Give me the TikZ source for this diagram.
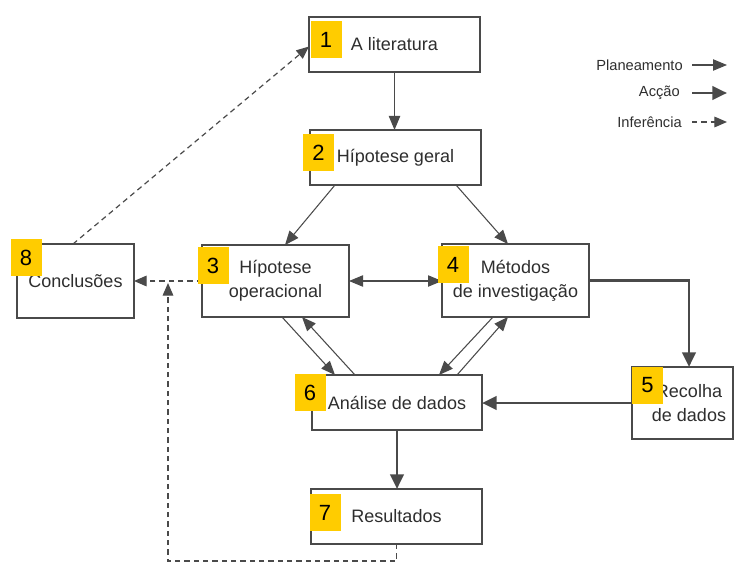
\documentclass[tikz,border=0pt]{standalone}
\usepackage{fontspec}
\setmainfont{Liberation Sans}
\usetikzlibrary{arrows.meta,calc}
\definecolor{ink}{HTML}{4A4A4A}
\definecolor{tagfill}{HTML}{FFCC00}
\definecolor{txt}{HTML}{2E2E2E}

\begin{document}
\begin{tikzpicture}[x=0.75pt,y=-0.75pt,
  box/.style={draw=ink, line width=0.9pt, inner sep=0pt, outer sep=0pt,
    fill=white, text=txt, align=center, font=\fontsize{13.5}{18}\selectfont},
  lbl/.style={inner sep=0pt, text=txt, align=center, font=\fontsize{13.5}{18}\selectfont},
  tag/.style={fill=tagfill, minimum width=23.25pt, minimum height=27.75pt,
    inner sep=0pt, text=black, font=\fontsize{16.5}{18}\selectfont},
  legend/.style={inner sep=0pt, anchor=east, text=txt, font=\fontsize{11}{13}\selectfont},
  plan/.style={draw=ink, line width=0.8pt, -{Triangle[length=10.5pt,width=8.5pt]}},
  twoway/.style={plan, {Triangle[length=10.5pt,width=8.5pt]}-{Triangle[length=10.5pt,width=8.5pt]}},
  act/.style={draw=ink, line width=2.2pt, -{Triangle[length=11pt,width=10pt]}},
  infer/.style={draw=ink, line width=0.9pt, dash pattern=on 4pt off 3pt,
    -{Triangle[length=9.5pt,width=8pt]}}
]
\useasboundingbox (0,0) rectangle (734,563);

% boxes
\node[box, minimum width=128.25pt, minimum height=41.25pt] (b1) at (394.5,44.5) {A literatura};
\node[box, minimum width=128.25pt, minimum height=41.25pt] (b2) at (395.5,157.5) {Hípotese geral};
\node[box, minimum width=110.25pt, minimum height=54pt] (b3) at (275.5,281) {Hípotese\\operacional};
\node[box, minimum width=87.75pt, minimum height=55.5pt] (b8) at (75.5,281) {Conclusões};
\node[box, minimum width=110.25pt, minimum height=54.75pt] (b4) at (515.5,280.5) {Métodos\\de investigação};
\node[box, minimum width=75.75pt, minimum height=54pt] (b5) at (682.5,403) {};
\node[lbl] (t5) at (689,403.5) {Recolha\\de dados};
\node[box, minimum width=127.5pt, minimum height=41.25pt] (b6) at (397,402.5) {Análise de dados};
\node[box, minimum width=128.25pt, minimum height=41.25pt] (b7) at (396.5,516.5) {Resultados};

% planning links
\draw[plan] (b1.south) -- (b1.south |- b2.north);
\draw[plan] ($(b2.south west)+(25,0)$) -- ($(b3.north west)+(83,0)$);
\draw[plan] ($(b2.south west)+(146,0)$) -- ($(b4.north west)+(66,0)$);
\draw[twoway] (b3.east) -- (b3.east -| b4.west);
\draw[plan] ($(b3.south west)+(80,0)$) -- ($(b6.north west)+(23,0)$);
\draw[plan] ($(b6.north west)+(43,0)$) -- ($(b3.south west)+(100,0)$);
\draw[plan] ($(b4.south west)+(51,0)$) -- ($(b6.north west)+(127,0)$);
\draw[plan] ($(b6.north west)+(145,0)$) -- ($(b4.south west)+(66,0)$);

% action links
\draw[act] (b4.east) -| (t5 |- b5.north);
\draw[act] (b5.west) -- (b5.west -| b6.east);
\draw[act] (b6.south) -- (b6.south |- b7.north);

% inference links
\coordinate (m) at ($(b8.east)!0.5!(b3.west)+(0,2)$);
\draw[infer] (b3.west) -- (b8.east);
\draw[infer] ($(b8.north west)+(56,0)$) -- ($(b1.west)+(0,2)$);
\draw[infer] (b7.south) -- ++(0,17) -| (m);

% number tags
\node[tag] (n1) at (326,40) {1};
\node[tag] (n2) at (318.5,152.5) {2};
\node[tag] (n3) at (213,265.5) {3};
\node[tag] (n8) at (26,257.5) {8};
\node[tag] (n4) at (453,264.5) {4};
\node[tag] (n5) at (647.5,385) {5};
\node[tag] (n6) at (310,392.5) {6};
\node[tag] (n7) at (325,512.5) {7};

% legend
\node[legend] (l1) at (683,65) {Planeamento};
\node[legend] (l2) at (680,93) {Acção};
\node[legend] (l3) at (682,122) {Inferência};
\coordinate (e1) at (727,65);
\coordinate (e2) at (727,93);
\coordinate (e3) at (727,122);
\draw[plan] ($(l1.east)+(9,0)$) -- (e1);
\draw[act] ($(l2.east)+(12,0)$) -- (e2);
\draw[infer] ($(l3.east)+(10,0)$) -- (e3);
\end{tikzpicture}
\end{document}
